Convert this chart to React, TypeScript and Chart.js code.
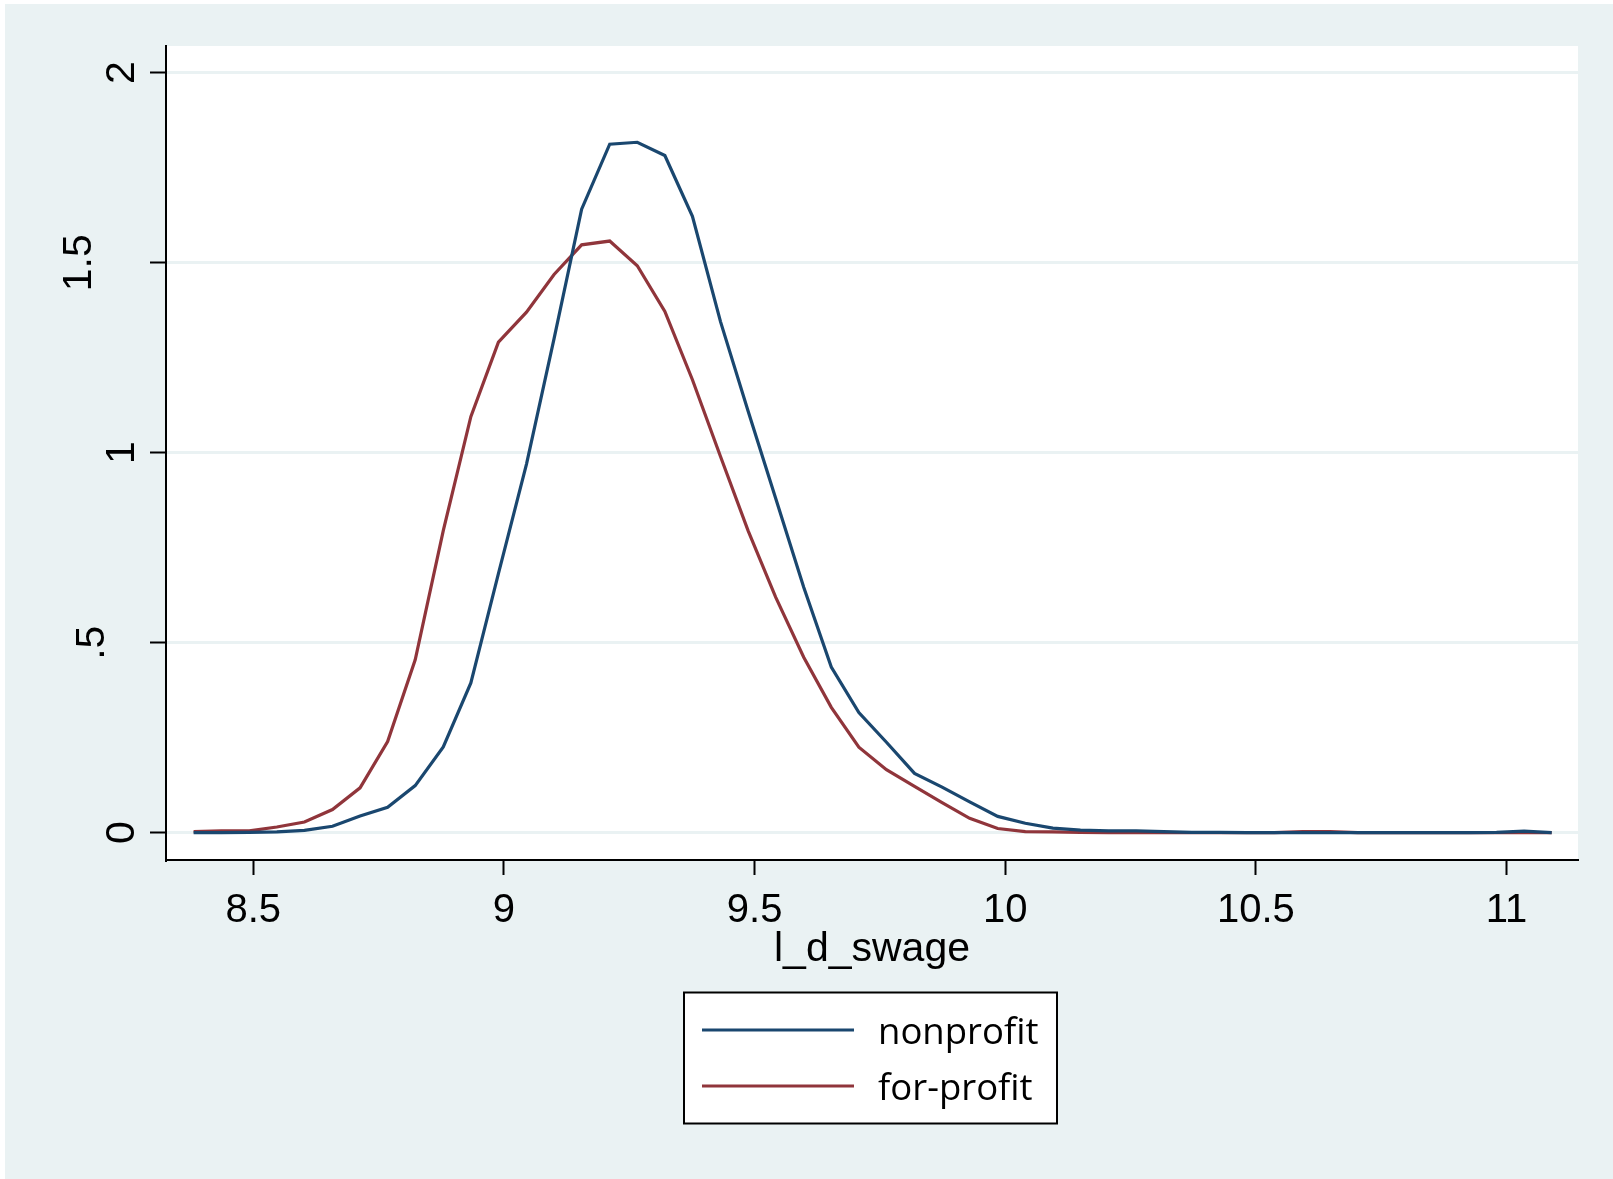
import React, { useEffect, useRef } from 'react';
import { Chart, registerables } from 'chart.js';

Chart.register(...registerables);

// Kernel density evaluation grid (50 points) for l_d_swage
const xGrid = [
  8.381, 8.436, 8.492, 8.547, 8.602, 8.658, 8.713, 8.768, 8.823, 8.879,
  8.934, 8.989, 9.045, 9.100, 9.155, 9.211, 9.266, 9.321, 9.376, 9.432,
  9.487, 9.542, 9.598, 9.653, 9.708, 9.763, 9.819, 9.874, 9.929, 9.985,
  10.040, 10.095, 10.150, 10.206, 10.261, 10.316, 10.372, 10.427, 10.482, 10.537,
  10.593, 10.648, 10.703, 10.759, 10.814, 10.869, 10.924, 10.980, 11.035, 11.090,
];

const nonprofit = [
  0.000, 0.000, 0.001, 0.002, 0.006, 0.017, 0.044, 0.067, 0.124, 0.226,
  0.394, 0.682, 0.970, 1.300, 1.641, 1.812, 1.817, 1.782, 1.622, 1.345,
  1.110, 0.880, 0.646, 0.436, 0.316, 0.238, 0.156, 0.120, 0.081, 0.043,
  0.025, 0.012, 0.007, 0.005, 0.005, 0.003, 0.001, 0.001, 0.000, 0.000,
  0.000, 0.000, 0.000, 0.000, 0.000, 0.000, 0.000, 0.001, 0.004, 0.000,
];

const forProfit = [
  0.003, 0.005, 0.005, 0.015, 0.028, 0.061, 0.118, 0.240, 0.455, 0.795,
  1.095, 1.291, 1.370, 1.469, 1.547, 1.557, 1.492, 1.372, 1.192, 0.990,
  0.795, 0.620, 0.462, 0.330, 0.225, 0.166, 0.122, 0.079, 0.038, 0.011,
  0.003, 0.002, 0.001, 0.000, 0.000, 0.000, 0.000, 0.000, 0.000, 0.000,
  0.003, 0.003, 0.000, 0.000, 0.000, 0.000, 0.000, 0.000, 0.000, 0.000,
];

const seriesLabels = ['nonprofit', 'for-profit'];
const seriesColors = ['#1A476F', '#90353B'];
const xTickValues = [8.5, 9, 9.5, 10, 10.5, 11];
const xTickLabels = ['8.5', '9', '9.5', '10', '10.5', '11'];
const yTickValues = [0, 0.5, 1, 1.5, 2];
const yTickLabels = ['0', '.5', '1', '1.5', '2'];
const xAxisTitle = 'l_d_swage';

const BG = 'rgb(234,242,243)';
const AXIS_FONT = '"Liberation Sans", Arial, Helvetica, sans-serif';

// Stata places vertical y labels by their horizontal width: longer labels sit further left.
const yLabelBaselineX: Record<string, number> = { '0': 133.5, '.5': 104, '1': 133.5, '1.5': 91, '2': 133.5 };

const plotBackground = {
  id: 'plotBackground',
  beforeDraw(chart: any) {
    const { ctx, chartArea } = chart;
    ctx.save();
    ctx.fillStyle = '#ffffff';
    ctx.fillRect(chartArea.left, chartArea.top, chartArea.right - chartArea.left, chartArea.bottom - chartArea.top);
    ctx.restore();
  },
};

const verticalYLabels = {
  id: 'verticalYLabels',
  afterDraw(chart: any) {
    const { ctx } = chart;
    const yScale = chart.scales.y;
    ctx.save();
    ctx.fillStyle = '#000000';
    ctx.font = `41px ${AXIS_FONT}`;
    ctx.textAlign = 'center';
    ctx.textBaseline = 'alphabetic';
    yTickValues.forEach((v, i) => {
      const label = yTickLabels[i];
      const py = yScale.getPixelForValue(v);
      const bx = yLabelBaselineX[label] ?? 133.5;
      ctx.save();
      ctx.translate(bx, py);
      ctx.rotate(-Math.PI / 2);
      ctx.fillText(label, 0, 0);
      ctx.restore();
    });
    ctx.restore();
  },
};

const boxedLegend = {
  id: 'boxedLegend',
  afterDraw(chart: any) {
    const { ctx } = chart;
    const left = 684;
    const top = 992.5;
    const width = 373;
    const height = 131;
    ctx.save();
    ctx.fillStyle = '#ffffff';
    ctx.fillRect(left, top, width, height);
    ctx.strokeStyle = '#000000';
    ctx.lineWidth = 2;
    ctx.strokeRect(left, top, width, height);
    chart.data.datasets.forEach((ds: any, i: number) => {
      const ly = 1030 + i * 56;
      ctx.strokeStyle = ds.borderColor;
      ctx.lineWidth = 3.2;
      ctx.beginPath();
      ctx.moveTo(702, ly);
      ctx.lineTo(854, ly);
      ctx.stroke();
      ctx.fillStyle = '#000000';
      ctx.font = '36.5px "Open Sans", "Noto Sans", sans-serif';
      ctx.textAlign = 'left';
      ctx.textBaseline = 'alphabetic';
      ctx.fillText(ds.label, 878, 1044 + i * 56);
    });
    ctx.restore();
  },
};

export default function App() {
  const canvasRef = useRef<HTMLCanvasElement | null>(null);

  useEffect(() => {
    document.body.style.margin = '0';
    document.body.style.overflow = 'hidden';
    const canvas = canvasRef.current;
    if (!canvas) return;

    const makeData = (ys: number[]) => xGrid.map((x, i) => ({ x, y: ys[i] }));

    const chart = new Chart(canvas, {
      type: 'line',
      data: {
        datasets: [
          {
            label: seriesLabels[0],
            data: makeData(nonprofit),
            borderColor: seriesColors[0],
            backgroundColor: seriesColors[0],
            borderWidth: 3.2,
            pointRadius: 0,
            tension: 0,
            fill: false,
          },
          {
            label: seriesLabels[1],
            data: makeData(forProfit),
            borderColor: seriesColors[1],
            backgroundColor: seriesColors[1],
            borderWidth: 3.2,
            pointRadius: 0,
            tension: 0,
            fill: false,
          },
        ],
      },
      options: {
        responsive: false,
        animation: false,
        devicePixelRatio: 1,
        layout: {
          padding: { left: 0, top: 46, right: 35, bottom: 204.6 },
        },
        plugins: {
          legend: { display: false },
          title: { display: false },
          tooltip: { enabled: false },
        },
        events: [],
        scales: {
          x: {
            type: 'linear',
            position: 'bottom',
            min: 8.3259,
            max: 11.1425,
            offset: false,
            afterBuildTicks: (scale: any) => {
              scale.ticks = xTickValues.map((v) => ({ value: v }));
            },
            afterFit: (scale: any) => {
              scale.height = 114.4;
            },
            grid: {
              drawOnChartArea: false,
              drawTicks: true,
              tickLength: 15,
              tickColor: '#000000',
              tickWidth: 2,
            },
            border: { display: true, color: '#000000', width: 2 },
            ticks: {
              autoSkip: false,
              maxRotation: 0,
              minRotation: 0,
              padding: 11.5,
              color: '#000000',
              font: { family: AXIS_FONT, size: 40 },
              callback: (value: any) => {
                const idx = xTickValues.findIndex((v) => Math.abs(v - Number(value)) < 1e-9);
                return idx >= 0 ? xTickLabels[idx] : '';
              },
            },
            title: {
              display: true,
              text: xAxisTitle,
              color: '#000000',
              padding: 0,
              font: { family: AXIS_FONT, size: 41, lineHeight: 1.2 },
            },
          },
          y: {
            type: 'linear',
            position: 'left',
            min: -0.0718,
            max: 2.0703,
            afterBuildTicks: (scale: any) => {
              scale.ticks = yTickValues.map((v) => ({ value: v }));
            },
            afterFit: (scale: any) => {
              scale.width = 166;
            },
            grid: {
              drawOnChartArea: true,
              color: BG,
              lineWidth: 3,
              drawTicks: true,
              tickLength: 16,
              tickColor: '#000000',
              tickWidth: 2,
            },
            border: { display: true, color: '#000000', width: 2 },
            ticks: {
              display: false,
              autoSkip: false,
              callback: (value: any) => {
                const idx = yTickValues.findIndex((v) => Math.abs(v - Number(value)) < 1e-9);
                return idx >= 0 ? yTickLabels[idx] : '';
              },
            },
          },
        },
      } as any,
      plugins: [plotBackground, verticalYLabels, boxedLegend],
    });

    return () => {
      chart.destroy();
    };
  }, []);

  return (
    <div
      style={{
        position: 'absolute',
        left: 0,
        top: 0,
        width: 1613,
        height: 1179,
        background: '#ffffff',
        overflow: 'hidden',
      }}
    >
      <div
        style={{
          position: 'absolute',
          left: 5,
          top: 4,
          right: 0,
          bottom: 0,
          background: BG,
        }}
      />
      <canvas
        ref={canvasRef}
        width={1613}
        height={1179}
        style={{ position: 'absolute', left: 0, top: 0, width: 1613, height: 1179 }}
      />
    </div>
  );
}
